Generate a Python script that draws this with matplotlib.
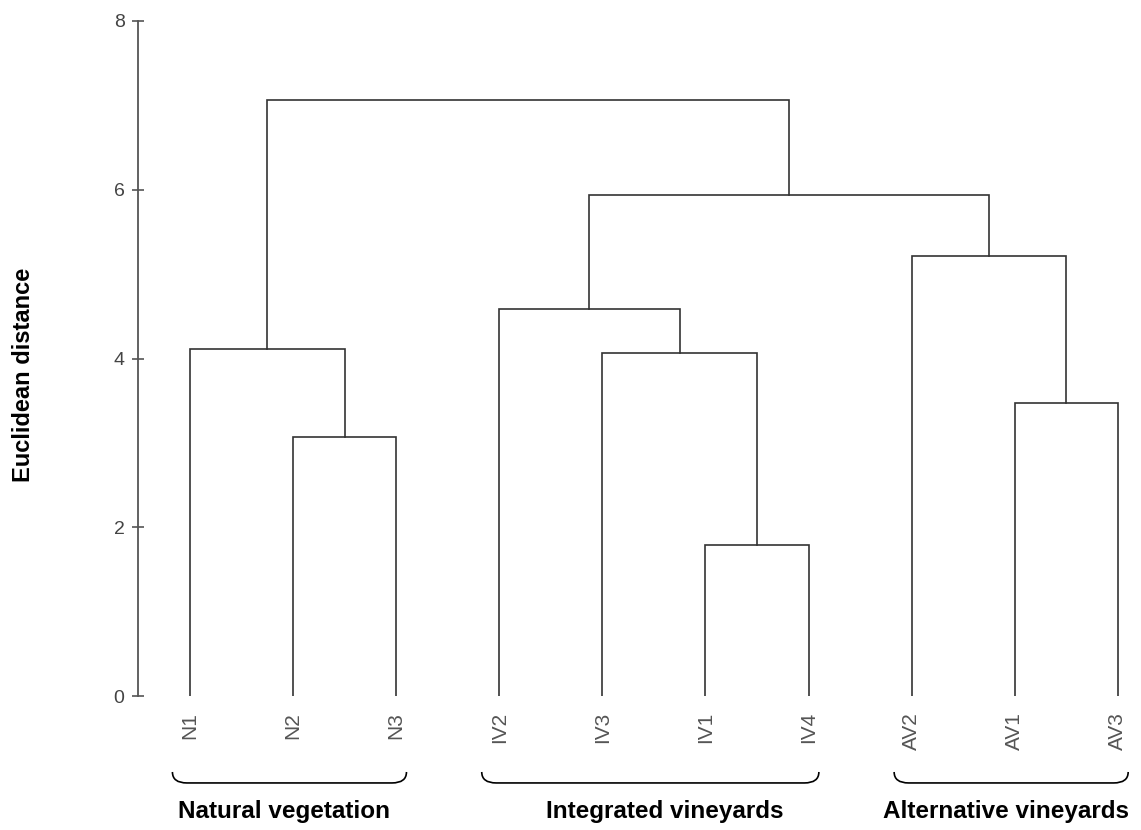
import numpy as np
import matplotlib
matplotlib.use('Agg')
from matplotlib import pyplot as plt
from matplotlib.path import Path
from matplotlib.patches import PathPatch

# leaves in dendrogram order
leaves = ['N1', 'N2', 'N3', 'IV2', 'IV3', 'IV1', 'IV4', 'AV2', 'AV1', 'AV3']

# linkage, scipy style: cluster 10+i joins merge_left[i] and merge_right[i]
merge_left = [5, 1, 8, 4, 0, 3, 7, 15, 14]
merge_right = [6, 2, 9, 10, 11, 13, 12, 16, 17]
merge_height = [1.79, 3.07, 3.47, 4.06, 4.11, 4.59, 5.22, 5.94, 7.06]

groups = ['Natural vegetation', 'Integrated vineyards', 'Alternative vineyards']
group_first = [0, 3, 7]
group_last = [2, 6, 9]

yticks = [0, 2, 4, 6, 8]

plt.rcParams['font.family'] = ['Liberation Sans', 'DejaVu Sans']

fig = plt.figure(figsize=(11.41, 8.30), dpi=100)
ax = fig.add_axes([0.1213, 0.1614, 0.8765, 0.8133])

n = len(leaves)
xpos = {i: float(i) for i in range(n)}
ypos = {i: 0.0 for i in range(n)}
line_col = '#333333'
for k in range(len(merge_height)):
    a, b, h = merge_left[k], merge_right[k], merge_height[k]
    ax.plot([xpos[a], xpos[a], xpos[b], xpos[b]],
            [ypos[a], h, h, ypos[b]],
            color=line_col, lw=1.2, solid_joinstyle='miter')
    xpos[n + k] = (xpos[a] + xpos[b]) / 2
    ypos[n + k] = h

ax.set_xlim(-0.5, 9.2)
ax.set_ylim(0, 8)
for s in ['top', 'right', 'bottom']:
    ax.spines[s].set_visible(False)
ax.spines['left'].set_color('#555555')
ax.spines['left'].set_linewidth(1.3)
ax.set_xticks([])
ax.set_yticks(yticks)
ax.set_yticklabels([str(t) for t in yticks], fontsize=14, color='#444444')
ax.tick_params(axis='y', direction='inout', length=8, width=1.2,
               color='#555555', pad=6)

# leaf names
for i, name in enumerate(leaves):
    ax.text(i, -0.19, name, rotation=90, ha='center', va='top',
            fontsize=15, color='#555555', clip_on=False)

# braces under each group, names centred a little off the brace
name_shift = [-0.05, 0.14, -0.05]
for g, first, last, dx in zip(groups, group_first, group_last, name_shift):
    x0, x1 = first - 0.17, last + 0.1
    top, bot = -0.9, -1.03
    r = 0.14
    verts = [(x0, top), (x0, bot), (x0 + r, bot),
             (x1 - r, bot),
             (x1, bot), (x1, top)]
    codes = [Path.MOVETO, Path.CURVE3, Path.CURVE3,
             Path.LINETO,
             Path.CURVE3, Path.CURVE3]
    ax.add_patch(PathPatch(Path(verts, codes), fill=False, lw=1.2,
                           edgecolor='black', clip_on=False))
    ax.text((x0 + x1) / 2 + dx, -1.37, g, ha='center', va='center',
            fontsize=17.5, fontweight='bold', clip_on=False)

fig.text(24 / 1141, 1 - 375 / 830, 'Euclidean distance', rotation=90,
         ha='center', va='center', fontsize=17, fontweight='bold')

plt.savefig('out.png', dpi=100)
